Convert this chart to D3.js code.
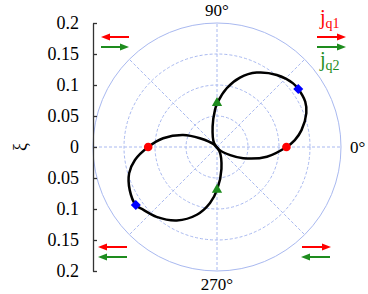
<!DOCTYPE html>
<html>
<head>
<meta charset="utf-8">
<script src="https://cdn.jsdelivr.net/npm/d3@7"></script>
<style>
  body { margin: 0; background: #fff; }
  text { font-family: "Liberation Serif", "DejaVu Serif", serif; }
</style>
</head>
<body>
<script>
const width = 368,
    height = 294

const cx = 217,
    cy = 147,
    R = 124

// curve: angle in degrees (ccw from 0°), radius in xi units
const loop1Theta = [0, 5.1, 11.3, 20.7, 27.2, 35.5, 39.9, 50.3, 61.9, 71.7, 80.6, 89.6, 93.1, 102, 127, -50, -31.6, -23.2, -11]
const loop1R = [0.112, 0.126, 0.139, 0.154, 0.160, 0.161, 0.160, 0.151, 0.136, 0.118, 0.096, 0.071, 0.060, 0.034, 0.008, 0.006, 0.025, 0.046, 0.082]
const loop2Theta = [180, 189, 196.7, 206.3, 215.6, 220.5, 229.1, 241.3, 253.4, 262.9, 270.4, 281.5, 300, 140, 152.9, 160.4, 170.8]
const loop2R = [0.111, 0.134, 0.148, 0.157, 0.161, 0.156, 0.149, 0.135, 0.114, 0.091, 0.068, 0.036, 0.008, 0.007, 0.031, 0.058, 0.088]

const dotTheta = [0, 180], dotR = [0.112, 0.111]
const diamondTheta = [35.5, 215.6], diamondR = [0.161, 0.161]
const triTheta = [90, 270], triR = [0.071, 0.069]

const gridRings = [0.05, 0.1, 0.15]
const spokes = [0, 45, 90, 135, 180, 225, 270, 315]
const yTicks = [0.2, 0.15, 0.1, 0.05, 0, -0.05, -0.1, -0.15, -0.2]

// arrows: tail x, head x, y, colour
const arrowTail = [129, 101, 127, 127, 317, 317, 302, 330]
const arrowHead = [101, 129, 98, 98, 346, 346, 331, 301]
const arrowY = [37, 47, 247, 257, 37, 47, 247, 257]
const arrowColor = ["#ff0000", "#1e8c1e", "#ff0000", "#1e8c1e", "#ff0000", "#1e8c1e", "#ff0000", "#1e8c1e"]

const svg = d3.select("body")
    .append("svg")
    .attr("width", width)
    .attr("height", height)

const r = d3.scaleLinear().domain([0, 0.2]).range([0, R])
const y = d3.scaleLinear().domain([-0.2, 0.2]).range([cy + R, cy - R])

const rad = (deg) => deg * Math.PI / 180
const px = (t, v) => cx + r(v) * Math.cos(rad(t))
const py = (t, v) => cy - r(v) * Math.sin(rad(t))

const grid = svg.append("g").attr("transform", `translate(${cx}, ${cy})`)
const gridColor = "#a9b9f0"

grid.selectAll(".ring")
    .data(gridRings)
    .join("circle")
    .attr("r", (d) => r(d))
    .attr("fill", "none")
    .attr("stroke", gridColor)
    .attr("stroke-width", 1)
    .attr("stroke-dasharray", "3,2")

grid.selectAll(".spoke")
    .data(spokes)
    .join("line")
    .attr("x2", (d) => r(0.2) * Math.cos(rad(d)))
    .attr("y2", (d) => -r(0.2) * Math.sin(rad(d)))
    .attr("stroke", gridColor)
    .attr("stroke-width", 1)
    .attr("stroke-dasharray", "3,2")

grid.append("circle")
    .attr("r", r(0.2))
    .attr("fill", "none")
    .attr("stroke", gridColor)
    .attr("stroke-width", 1)

// left axis
const axis = svg.append("g")
    .attr("transform", `translate(93, 0)`)
    .call(d3.axisRight(y).tickValues(yTicks).tickSize(4).tickSizeOuter(0)
        .tickFormat((d) => d3.format("")(Math.abs(+d.toFixed(2)))))
axis.select(".domain").attr("stroke", "#333").attr("stroke-width", 1.3)
axis.selectAll(".tick line").attr("stroke", "#333").attr("stroke-width", 1.3)
axis.selectAll(".tick text")
    .attr("x", -14)
    .attr("text-anchor", "end")
    .style("font-family", "Liberation Serif")
    .style("font-size", "18px")
    .attr("fill", "#000")

svg.append("text")
    .attr("transform", "translate(20, 147) rotate(-90)")
    .attr("text-anchor", "middle")
    .attr("dy", "0.35em")
    .style("font-size", "18px")
    .text("ξ")

// angle labels
svg.append("text").attr("x", cx).attr("y", 16).attr("text-anchor", "middle")
    .style("font-size", "17px").text("90°")
svg.append("text").attr("x", cx).attr("y", 290).attr("text-anchor", "middle")
    .style("font-size", "17px").text("270°")
svg.append("text").attr("x", 350).attr("y", 153)
    .style("font-size", "17px").text("0°")

// curve
const line = d3.lineRadial()
    .angle((d) => rad(90 - d[0]))
    .radius((d) => r(d[1]))
    .curve(d3.curveCatmullRomClosed.alpha(0.5))

const plot = svg.append("g").attr("transform", `translate(${cx}, ${cy})`)
plot.selectAll(".loop")
    .data([d3.zip(loop1Theta, loop1R), d3.zip(loop2Theta, loop2R)])
    .join("path")
    .attr("d", line)
    .attr("fill", "none")
    .attr("stroke", "#000")
    .attr("stroke-width", 2.5)

svg.selectAll(".dot")
    .data(d3.zip(dotTheta, dotR))
    .join("circle")
    .attr("cx", (d) => px(d[0], d[1]))
    .attr("cy", (d) => py(d[0], d[1]))
    .attr("r", 4.3)
    .attr("fill", "#ff0000")

svg.selectAll(".diamond")
    .data(d3.zip(diamondTheta, diamondR))
    .join("path")
    .attr("d", d3.symbol(d3.symbolSquare, 50))
    .attr("transform", (d) => `translate(${px(d[0], d[1])}, ${py(d[0], d[1])}) rotate(45)`)
    .attr("fill", "#0000ff")

svg.selectAll(".tri")
    .data(d3.zip(triTheta, triR))
    .join("path")
    .attr("d", d3.symbol(d3.symbolTriangle, 46))
    .attr("transform", (d) => `translate(${px(d[0], d[1])}, ${py(d[0], d[1])})`)
    .attr("fill", "#1e8c1e")

const arrows = arrowY.map((yy, i) => ({ x1: arrowTail[i], x2: arrowHead[i], y: yy, c: arrowColor[i] }))

const ag = svg.selectAll(".arrow").data(arrows).join("g")
ag.append("line")
    .attr("x1", (d) => d.x1)
    .attr("x2", (d) => d.x2 - Math.sign(d.x2 - d.x1) * 6)
    .attr("y1", (d) => d.y)
    .attr("y2", (d) => d.y)
    .attr("stroke", (d) => d.c)
    .attr("stroke-width", 2)
ag.append("path")
    .attr("d", (d) => {
        const s = Math.sign(d.x2 - d.x1)
        return `M${d.x2},${d.y} L${d.x2 - s * 9},${d.y - 3.5} L${d.x2 - s * 9},${d.y + 3.5} Z`
    })
    .attr("fill", (d) => d.c)

// j labels
const jq1 = svg.append("text").attr("x", 320).attr("y", 24).attr("fill", "#ff0000").style("font-size", "20px")
jq1.append("tspan").text("j")
jq1.append("tspan").attr("dy", 4).style("font-size", "14px").text("q1")
const jq2 = svg.append("text").attr("x", 320).attr("y", 66).attr("fill", "#1e8c1e").style("font-size", "20px")
jq2.append("tspan").text("j")
jq2.append("tspan").attr("dy", 4).style("font-size", "14px").text("q2")
</script>
</body>
</html>
